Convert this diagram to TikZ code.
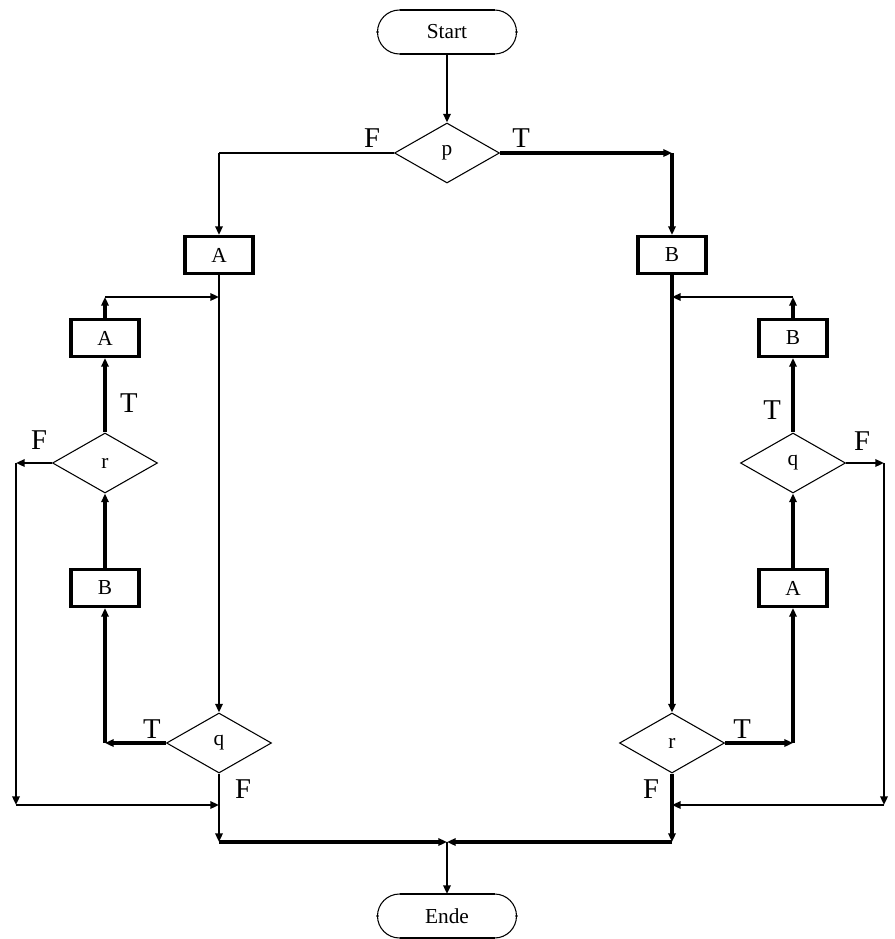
\documentclass[tikz,border=0pt]{standalone}
\usepackage{fontspec}
\setmainfont{Liberation Serif}
\usetikzlibrary{shapes.geometric,arrows.meta}
\begin{document}
\begin{tikzpicture}[x=0.75pt,y=-0.75pt,
  every node/.style={font=\fontsize{16}{19}\selectfont, inner sep=0pt},
  terminal/.style={rectangle, outer sep=0pt, minimum width=104.25pt, minimum height=33pt},
  procbox/.style={rectangle, draw, line width=2.3pt, minimum width=51pt, minimum height=27.75pt},
  decision/.style={diamond, draw, line width=0.8pt, aspect=1.75,
                   minimum width=78.75pt, minimum height=45pt},
  lbl/.style={font=\fontsize{21.5}{24}\selectfont},
  tip/.style={-{Triangle[length=6.5pt,width=5.5pt]}},
  flow/.style={line width=1.8pt, tip},
  flowthick/.style={line width=2.3pt, tip},
  flowthin/.style={line width=0.9pt},
]
\useasboundingbox (0,0) rectangle (894,939);

% main nodes
\node[terminal]  (start) at (447,32)  {Start};
\node[decision]  (p)     at (447,153) {p};
\node[procbox]   (A1)    at (219,255) {A};
\node[procbox]   (B1)    at (672,255) {B};
\node[procbox]   (LA)    at (105,338) {A};
\node[decision]  (rL)    at (105,463) {r};
\node[procbox]   (LB)    at (105,588) {B};
\node[decision]  (qL)    at (219,743) {q};
\node[procbox]   (RB)    at (793,338) {B};
\node[decision]  (qR)    at (793,463) {q};
\node[procbox]   (RA)    at (793,588) {A};
\node[decision]  (rR)    at (672,743) {r};
\node[terminal]  (ende)  at (447,916) {Ende};

% terminal outlines: thin round ends, heavy straight edges
\foreach \n in {start,ende} {
  \draw[line width=0.8pt, rounded corners=16.5pt] (\n.north west) rectangle (\n.south east);
  \draw[line width=2.1pt] ([xshift=16.5pt]\n.north west) -- ([xshift=-16.5pt]\n.north east);
  \draw[line width=2.1pt] ([xshift=16.5pt]\n.south west) -- ([xshift=-16.5pt]\n.south east);
  \fill (\n.west) circle[radius=1.1pt];
  \fill (\n.east) circle[radius=1.1pt];
}

% bends and junctions
\coordinate (pl)   at (219,153);
\coordinate (pr)   at (672,153);
\coordinate (jL)   at (219,297);
\coordinate (cLA)  at (105,297);
\coordinate (cFL)  at (16,463);
\coordinate (cFL2) at (16,805);
\coordinate (jL2)  at (219,805);
\coordinate (cTL)  at (105,743);
\coordinate (bL)   at (219,842);
\coordinate (bM)   at (447,842);
\coordinate (bR)   at (672,842);
\coordinate (jR)   at (672,297);
\coordinate (cRB)  at (793,297);
\coordinate (cFR)  at (884,463);
\coordinate (cFR2) at (884,805);
\coordinate (jR2)  at (672,805);
\coordinate (cTR)  at (793,743);

% top
\draw[flow] (start) -- (p);
\draw[flowthin] (p.west) -- (pl);
\draw[flow] (pl) -- (A1);
\draw[flowthick] (p.east) -- (pr);
\draw[flowthick] (pr) -- (B1);

% left branch
\draw[flow] (A1) -- (qL);
\draw[flowthick] (LA) -- (cLA);
\draw[flow] (cLA) -- (jL);
\draw[flowthick] (rL) -- (LA);
\draw[flow] (rL) -- (cFL);
\draw[flow] (cFL) -- (cFL2);
\draw[flow] (cFL2) -- (jL2);
\draw[flowthick] (LB) -- (rL);
\draw[flowthick] (qL) -- (cTL);
\draw[flowthick] (cTL) -- (LB);
\draw[flow] (qL) -- (bL);

% right branch
\draw[flowthick] (B1) -- (rR);
\draw[flowthick] (RB) -- (cRB);
\draw[flow] (cRB) -- (jR);
\draw[flowthick] (qR) -- (RB);
\draw[flow] (qR) -- (cFR);
\draw[flow] (cFR) -- (cFR2);
\draw[flow] (cFR2) -- (jR2);
\draw[flowthick] (RA) -- (qR);
\draw[flowthick] (rR) -- (cTR);
\draw[flowthick] (cTR) -- (RA);
\draw[flowthick] (rR) -- (bR);

% bottom merge
\draw[flowthick] (bL) -- (bM);
\draw[flowthick] (bR) -- (bM);
\draw[flow] (bM) -- (ende);

% branch labels
\node[lbl] (lpF)  at (372,138) {F};
\node[lbl] (lpT)  at (521,138) {T};
\node[lbl] (lrLT) at (129,403) {T};
\node[lbl] (lrLF) at (39,440)  {F};
\node[lbl] (lqLT) at (152,729) {T};
\node[lbl] (lqLF) at (243,789) {F};
\node[lbl] (lqRT) at (772,410) {T};
\node[lbl] (lqRF) at (862,441) {F};
\node[lbl] (lrRT) at (742,729) {T};
\node[lbl] (lrRF) at (651,789) {F};
\end{tikzpicture}
\end{document}
